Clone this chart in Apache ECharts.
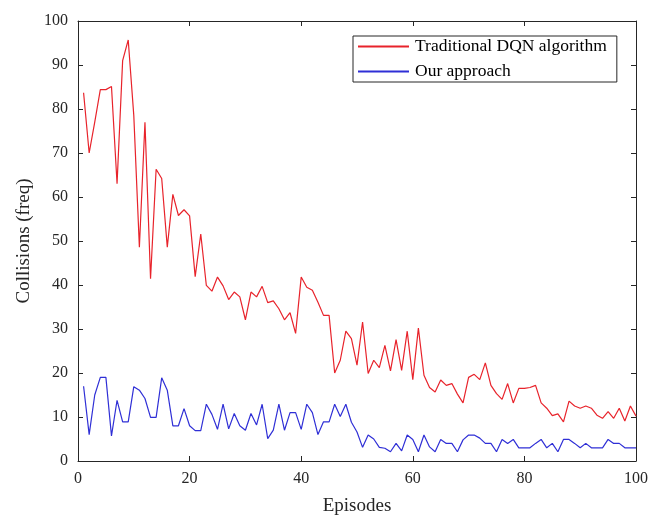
<!DOCTYPE html>
<html><head><meta charset="utf-8">
<script src="https://cdn.jsdelivr.net/npm/echarts@6/dist/echarts.min.js"></script>
<style>html,body{margin:0;padding:0;background:#fff}#c{width:655px;height:523px}</style>
</head><body><div id="c"></div>
<script>
const episodes = Array.from({length:100},(_,i)=>i+1);
const dqn = [83.7,70,77,84.4,84.4,85.1,63,91,95.7,78.5,
48.6,77,41.4,66.3,64.2,48.6,60.6,55.8,57.1,55.7,
41.9,51.6,39.9,38.6,41.8,39.8,36.7,38.4,37.3,32.1,
38.4,37.3,39.7,36,36.4,34.6,32.1,33.7,29,41.8,
39.5,38.8,36.1,33.1,33.1,20,22.9,29.5,27.8,21.8,
31.6,19.9,22.9,21.2,26.3,20.5,27.6,20.6,29.5,18.5,
30.2,19.5,16.7,15.7,18.4,17.2,17.6,15.2,13.2,19,
19.7,18.5,22.3,17.2,15.3,14,17.6,13.2,16.5,16.5,
16.7,17.2,13.2,12,10.3,10.7,8.9,13.6,12.5,12,
12.5,12,10.4,9.7,11.2,9.7,12,9.1,12.5,10.2];
const ours = [17,6,15,19,19,5.7,13.8,8.9,8.9,16.9,
16.1,14.2,9.9,9.9,18.9,16.1,8,8,11.9,8,
6.9,6.9,12.9,10.6,7.2,12.9,7.3,10.8,8,7,
10.8,8.2,12.9,5.1,7,12.9,7,11,11,7.2,
12.9,11,6,8.9,8.9,12.9,10.1,12.9,8.8,6.6,
3.1,5.9,5,3.1,2.9,2.1,4,2.3,5.9,4.9,
2.1,5.9,3.2,2.1,4.9,4,4,2.1,4.8,5.9,
5.9,5.2,4,4,2.1,4.9,4,4.9,3,3,
3,4,4.9,3,4,2.1,4.9,4.9,4,3,
4,3,3,3,4.9,4,4,3,3,3];
const xTicks = [0,20,40,60,80,100];
const yTicks = [0,10,20,30,40,50,60,70,80,90,100];
const seriesNames = ['Traditional DQN algorithm','Our approach'];

const axCol = '#262626';
const font = 'Liberation Serif';
const chart = echarts.init(document.getElementById('c'), null, {renderer:'canvas'});
const xBase = {type:'value', min:0, max:100, interval:20, gridIndex:0,
  axisLine:{show:true, onZero:false, lineStyle:{color:axCol, width:1}},
  axisTick:{show:true, inside:true, length:5, lineStyle:{color:axCol}},
  splitLine:{show:false}};
const yBase = {type:'value', min:0, max:100, interval:10,
  axisLine:{show:true, onZero:false, lineStyle:{color:axCol, width:1}},
  axisTick:{show:true, inside:true, length:5, lineStyle:{color:axCol}},
  splitLine:{show:false}};
chart.setOption({
  animation:false,
  backgroundColor:'#fff',
  grid:{left:78, top:21, width:558, height:440, containLabel:false},
  legend:{
    data:seriesNames, orient:'vertical', left:353, top:36,
    itemWidth:51, itemHeight:2, itemGap:6,
    padding:[1,10,1,5],
    borderColor:'#262626', borderWidth:1, backgroundColor:'#fff',
    textStyle:{fontFamily:font, fontSize:17.5, lineHeight:19, color:'#000', padding:[0,0,0,1]},
    icon:'rect'
  },
  xAxis:[
    Object.assign({}, xBase, {position:'bottom', name:'Episodes', nameLocation:'middle', nameGap:36,
      nameTextStyle:{fontFamily:font, fontSize:19, color:axCol},
      axisLabel:{show:true, fontFamily:font, fontSize:16, color:axCol, margin:10}}),
    Object.assign({}, xBase, {position:'top', axisLabel:{show:false}})
  ],
  yAxis:[
    Object.assign({}, yBase, {position:'left', name:'Collisions (freq)', nameLocation:'middle', nameGap:44,
      nameTextStyle:{fontFamily:font, fontSize:19, color:axCol},
      axisLabel:{show:true, fontFamily:font, fontSize:16, color:axCol, margin:10}}),
    Object.assign({}, yBase, {position:'right', axisLabel:{show:false}})
  ],
  series:[
    {name:seriesNames[0], type:'line', data:episodes.map((e,i)=>[e,dqn[i]]),
     symbol:'none', lineStyle:{color:'#e8232b', width:1.2}, itemStyle:{color:'#e8232b'}},
    {name:seriesNames[1], type:'line', data:episodes.map((e,i)=>[e,ours[i]]),
     symbol:'none', lineStyle:{color:'#2f2fd6', width:1.2}, itemStyle:{color:'#2f2fd6'}}
  ]
});
</script></body></html>
